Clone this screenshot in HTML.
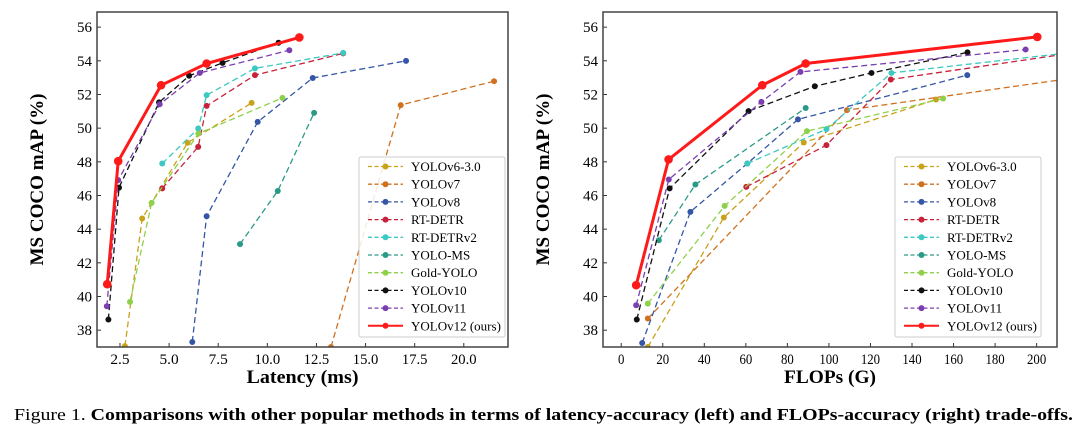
<!DOCTYPE html>
<html><head><meta charset="utf-8"><style>
html,body{margin:0;padding:0;background:#fff;}
svg{display:block;font-family:"Liberation Serif",serif;}
</style></head><body>
<svg id="fig" width="1080" height="435" viewBox="0 0 1080 435" xmlns="http://www.w3.org/2000/svg">
<text x="14" y="420" font-size="17" textLength="1059" lengthAdjust="spacingAndGlyphs">Figure 1. <tspan font-weight="bold">Comparisons with other popular methods in terms of latency-accuracy (left) and FLOPs-accuracy (right) trade-offs.</tspan></text>
</svg>
<script>
// ----- data -----
const seriesNames = ["YOLOv6-3.0","YOLOv7","YOLOv8","RT-DETR","RT-DETRv2","YOLO-MS","Gold-YOLO","YOLOv10","YOLOv11","YOLOv12 (ours)"];
const seriesColors = ["#c9a21c","#d0711f","#3556a6","#c8213a","#3cc9c2","#2a9a88","#8fd04a","#111111","#7b3fb0","#ff1a1a"];
const latV6 = [2.75,3.63,5.94,9.2];          const mapLatV6 = [37.05,44.63,49.13,51.5];
const latV7 = [13.24,16.79,21.54];           const mapLatV7 = [37.0,51.37,52.79];
const latV8 = [6.18,6.91,9.51,12.31,17.06];  const mapLatV8 = [37.3,44.77,50.37,52.98,54.0];
const latRT = [4.65,6.48,6.91,9.37,13.86];   const mapLatRT = [46.42,48.89,51.32,53.15,54.44];
const latRT2 = [4.65,6.48,6.91,9.37,13.86];  const mapLatRT2 = [47.9,49.98,51.96,53.55,54.47];
const latMS = [8.61,10.53,12.38];            const mapLatMS = [43.11,46.27,50.91];
const latGold = [3.01,4.11,6.49,10.77];      const mapLatGold = [39.68,45.56,49.68,51.8];
const latV10 = [1.91,2.45,4.49,6.02,7.72,10.57]; const mapLatV10 = [38.63,46.47,51.53,53.11,53.88,55.07];
const latV11 = [1.83,2.41,4.52,6.56,11.12];  const mapLatV11 = [39.42,46.91,51.42,53.28,54.63];
const latV12 = [1.85,2.41,4.59,6.91,11.63];  const mapLatV12 = [40.73,48.04,52.55,53.84,55.39];

const flV6 = [12.8,49.4,87.9,151.5];         const mapFlV6 = [37.0,44.69,49.15,51.7];
const flV7 = [12.8,108.7,212];               const mapFlV7 = [38.69,51.07,52.88];
const flV8 = [10.1,33.3,60.7,85.1,166.6];    const mapFlV8 = [37.24,45.03,47.9,50.52,53.15];
const flRT = [60.2,98.8,129.8,216];          const mapFlRT = [46.51,48.99,52.89,54.44];
const flRT2 = [60.7,98.8,130.1,215];         const mapFlRT2 = [47.9,49.94,53.28,54.47];
const flMS = [18.1,35.7,88.8];               const mapFlMS = [43.34,46.65,51.2];
const flGold = [12.8,49.8,89.4,155];         const mapFlGold = [39.58,45.38,49.82,51.76];
const flV10 = [7.5,23.3,61.3,93.2,120.5,166.7]; const mapFlV10 = [38.63,46.42,51.01,52.49,53.28,54.5];
const flV11 = [7.2,22.9,67.5,86.3,194.7];    const mapFlV11 = [39.48,46.95,51.56,53.34,54.67];
const flV12 = [7.2,22.8,67.9,88.8,200.3];    const mapFlV12 = [40.67,48.14,52.55,53.84,55.42];

const yTicks = [38,40,42,44,46,48,50,52,54,56];
const latTicks = [2.5,5.0,7.5,10.0,12.5,15.0,17.5,20.0];
const flTicks = [0,20,40,60,80,100,120,140,160,180,200];

const NS = "http://www.w3.org/2000/svg";
const svg = document.getElementById("fig");
function mk(tag, attrs, parent){const e=document.createElementNS(NS,tag);for(const k in attrs)e.setAttribute(k,attrs[k]);(parent||svg).appendChild(e);return e;}

function drawPanel(p){
  const g = mk("g",{});
  
  
  const X = v => p.x0 + (v - p.xmin) / (p.xmax - p.xmin) * (p.x1 - p.x0);
  const Y = v => p.y1 - (v - 37) / (56.9 - 37) * (p.y1 - p.y0);
  const cid = p.name + "-clip";
  const defs = mk("defs",{},g);
  const cp = mk("clipPath",{id:cid},defs);
  mk("rect",{x:p.x0,y:p.y0,width:p.x1-p.x0,height:p.y1-p.y0},cp);
  // ticks
  yTicks.forEach(t=>{
    const tl = mk("line",{x1:p.x0,x2:p.x0+4,y1:Y(t),y2:Y(t),stroke:"#333","stroke-width":1},g);
    
    
    const tx = mk("text",{x:p.x0-5,y:Y(t)+5,"font-size":15,"text-anchor":"end"},g);
    
    
    tx.textContent = t;
  });
  p.ticks.forEach(t=>{
    const tl = mk("line",{x1:X(t),x2:X(t),y1:p.y1,y2:p.y1-4,stroke:"#333","stroke-width":1},g);
    
    
    const s = p.fmt(t);
    const tx = mk("text",{x:X(t),y:p.y1+17,"font-size":15,"text-anchor":"middle",textLength:s.length*6.4,lengthAdjust:"spacingAndGlyphs"},g);
    
    
    tx.textContent = s;
  });
  // series
  const sg = mk("g",{"clip-path":"url(#"+cid+")"},g);
  p.series.forEach((s,i)=>{
    const last = i===9;
    const pts = s[0].map((v,j)=>X(v)+","+Y(s[1][j])).join(" ");
    const pl = mk("polyline",{points:pts,fill:"none",stroke:seriesColors[i],"stroke-width":last?3:1.3,"stroke-dasharray":last?"none":"6,3.5"},sg);
    
    
    s[0].forEach((v,j)=>{
      const c = mk("circle",{cx:X(v),cy:Y(s[1][j]),r:last?4.3:3,fill:seriesColors[i]},sg);
      
      
    });
  });
  // frame
  const fr = mk("rect",{x:p.x0,y:p.y0,width:p.x1-p.x0,height:p.y1-p.y0,fill:"none",stroke:"#444","stroke-width":1.5},g);
  
  
  // axis titles
  const xt = mk("text",{x:(p.x0+p.x1)/2,y:383,"font-size":19,"font-weight":"bold","text-anchor":"middle",textLength:p.xtLen,lengthAdjust:"spacingAndGlyphs"},g);
  
  
  xt.textContent = p.xtitle;
  const yt = mk("text",{x:0,y:0,"font-size":19,"font-weight":"bold","text-anchor":"middle",textLength:172,lengthAdjust:"spacingAndGlyphs",transform:"translate("+(p.x0-54)+","+((p.y0+p.y1)/2)+") rotate(-90)"},g);
  
  
  yt.textContent = "MS COCO mAP (%)";
  // legend
  const lg = mk("g",{},g);
  
  
  mk("rect",{x:p.lx,y:157,width:146,height:180,fill:"#fff","fill-opacity":0.85,stroke:"#ccc","stroke-width":1,rx:2},lg);
  seriesNames.forEach((n,i)=>{
    const yy = 166.5 + i*17.7;
    const e = mk("g",{},lg);
    
    
    const last = i===9;
    mk("line",{x1:p.lx+9,x2:p.lx+44,y1:yy,y2:yy,stroke:seriesColors[i],"stroke-width":last?2:1.3,"stroke-dasharray":last?"none":"4,2.5"},e);
    mk("circle",{cx:p.lx+26.5,cy:yy,r:3,fill:seriesColors[i]},e);
    const t = mk("text",{x:p.lx+52,y:yy+4.5,"font-size":13},e);
    t.textContent = n;
  });
}

drawPanel({name:"latency-chart",x0:97,x1:508,y0:12,y1:347,xmin:1.33,xmax:22.25,ticks:latTicks,fmt:t=>t.toFixed(1),
  xtitle:"Latency (ms)",xtLen:112,lx:359,
  series:[[latV6,mapLatV6],[latV7,mapLatV7],[latV8,mapLatV8],[latRT,mapLatRT],[latRT2,mapLatRT2],[latMS,mapLatMS],[latGold,mapLatGold],[latV10,mapLatV10],[latV11,mapLatV11],[latV12,mapLatV12]]});
drawPanel({name:"flops-chart",x0:603,x1:1057,y0:12,y1:347,xmin:-8.77,xmax:209.8,ticks:flTicks,fmt:t=>String(t),
  xtitle:"FLOPs (G)",xtLen:92,lx:895,
  series:[[flV6,mapFlV6],[flV7,mapFlV7],[flV8,mapFlV8],[flRT,mapFlRT],[flRT2,mapFlRT2],[flMS,mapFlMS],[flGold,mapFlGold],[flV10,mapFlV10],[flV11,mapFlV11],[flV12,mapFlV12]]});
</script>
</body></html>
